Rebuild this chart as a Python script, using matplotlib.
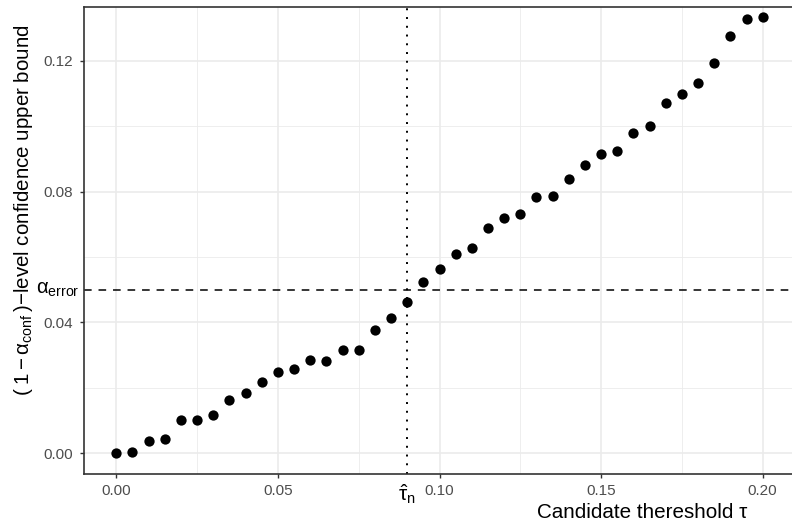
import matplotlib
matplotlib.use("Agg")
import matplotlib.pyplot as plt
import numpy as np

plt.rcParams['font.family'] = ['Liberation Sans', 'DejaVu Sans']
plt.rcParams['mathtext.fontset'] = 'custom'
plt.rcParams['mathtext.rm'] = 'Liberation Sans'
plt.rcParams['mathtext.it'] = 'Liberation Sans:italic'
plt.rcParams['mathtext.sf'] = 'Liberation Sans'
plt.rcParams['mathtext.bf'] = 'Liberation Sans:bold'

# ---- data ----
tau = [0.000, 0.005, 0.010, 0.015, 0.020, 0.025, 0.030, 0.035, 0.040, 0.045,
       0.050, 0.055, 0.060, 0.065, 0.070, 0.075, 0.080, 0.085, 0.090, 0.095,
       0.100, 0.105, 0.110, 0.115, 0.120, 0.125, 0.130, 0.135, 0.140, 0.145,
       0.150, 0.155, 0.160, 0.165, 0.170, 0.175, 0.180, 0.185, 0.190, 0.195,
       0.200]
upper_bound = [0.0000, 0.0002, 0.0037, 0.0043, 0.0100, 0.0102, 0.0118, 0.0162, 0.0183, 0.0216,
               0.0247, 0.0257, 0.0285, 0.0282, 0.0314, 0.0316, 0.0376, 0.0412, 0.0463, 0.0524,
               0.0562, 0.0609, 0.0628, 0.0690, 0.0718, 0.0732, 0.0784, 0.0788, 0.0838, 0.0883,
               0.0914, 0.0923, 0.0979, 0.1000, 0.1071, 0.1100, 0.1133, 0.1195, 0.1276, 0.1328,
               0.1335]
alpha_error = 0.05
tau_hat = 0.09
x_ticks = [0.00, 0.05, 0.10, 0.15, 0.20]
x_tick_labels = ['0.00', '0.05', '0.10', '0.15', '0.20']
y_ticks = [0.00, 0.04, 0.08, 0.12]
y_tick_labels = ['0.00', '0.04', '0.08', '0.12']

W, H = 792, 523
fig = plt.figure(figsize=(W / 100, H / 100), dpi=100)
left_px, right_px, top_px, bottom_px = 84, 795, 7, 474
ax = fig.add_axes([left_px / W, (H - bottom_px) / H,
                   (right_px - left_px) / W, (bottom_px - top_px) / H])

ax.set_xlim(-0.01, 0.21)
ax.set_ylim(-0.0064, 0.1365)

# grid
ax.set_xticks(x_ticks)
ax.set_xticklabels(x_tick_labels)
ax.set_yticks(y_ticks)
ax.set_yticklabels(y_tick_labels)
ax.set_xticks([0.025, 0.075, 0.125, 0.175], minor=True)
ax.set_yticks([0.02, 0.06, 0.10], minor=True)
ax.grid(which='major', color='#EBEBEB', lw=1.2)
ax.grid(which='minor', color='#EBEBEB', lw=0.6)
ax.set_axisbelow(True)
ax.tick_params(which='minor', length=0)
ax.tick_params(which='major', length=3, width=1.0, color='#333333',
               labelcolor='#4D4D4D', labelsize=11)
ax.tick_params(axis='x', pad=4)
ax.tick_params(axis='y', pad=5)
for s in ax.spines.values():
    s.set_color('#333333')
    s.set_linewidth(1.2)

# reference lines
ax.axhline(alpha_error, color='black', lw=1.1, ls=(0, (5, 4.5)), zorder=2)
ax.axvline(tau_hat, color='black', lw=1.4, ls=(0, (1, 3.5)), zorder=2)

# points
ax.scatter(tau, upper_bound, s=55, color='black', zorder=3, linewidths=0)

# annotations outside the panel
ax.annotate(r'$\mathrm{\alpha}_{\mathrm{error}}$', xy=(0, alpha_error), xycoords=('axes fraction', 'data'),
            xytext=(-3, 0), textcoords='offset points', ha='right', va='center',
            fontsize=14.5, color='black', annotation_clip=False)
ax.annotate(r'$\hat{\mathrm{\tau}}_{\mathrm{n}}$', xy=(tau_hat, 0), xycoords=('data', 'axes fraction'),
            xytext=(0, -6), textcoords='offset points', ha='center', va='top',
            fontsize=15, color='black', annotation_clip=False)

# axis titles
fig.text(747 / W, (H - 518) / H, 'Candidate thereshold τ', ha='right', va='baseline',
         fontsize=14.9, color='black')
fig.text(24 / W, (H - 210) / H,
         r'$(\;1 - \mathrm{\alpha}_{\mathrm{conf}}\,)$' + '−level confidence upper bound',
         rotation=90, ha='center', va='center', fontsize=14.8, color='black')

fig.savefig('out.png', dpi=100)
